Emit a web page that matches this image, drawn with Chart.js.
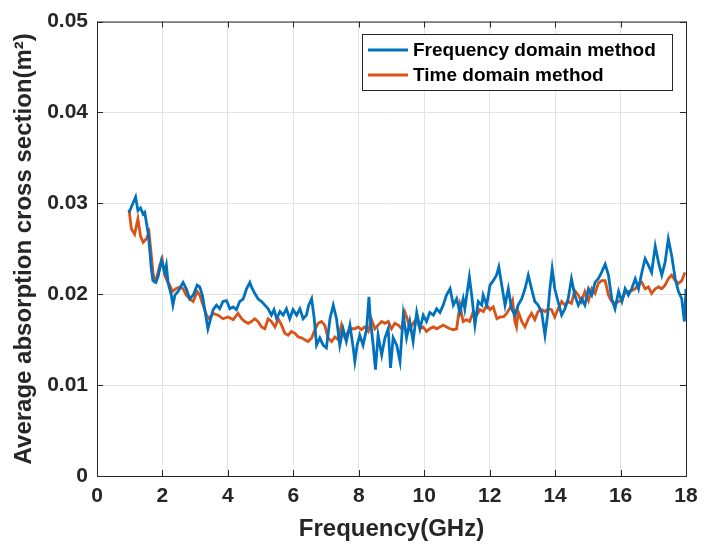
<!DOCTYPE html>
<html>
<head>
<meta charset="utf-8">
<script src="https://cdn.jsdelivr.net/npm/chart.js@4.4.1/dist/chart.umd.min.js"></script>
<style>
  html, body { margin: 0; padding: 0; background: #fff; }
  #wrap { width: 719px; height: 544px; }
</style>
</head>
<body>
<div id="wrap"><canvas id="chart" width="719" height="544"></canvas></div>
<script>
// Data
const freqBlue = [0.98, 1.18, 1.25, 1.33, 1.41, 1.46, 1.51, 1.56, 1.61, 1.66, 1.71, 1.80, 1.87, 1.97, 2.07, 2.12, 2.17, 2.27, 2.32, 2.38, 2.48, 2.63, 2.73, 2.83, 2.94, 3.06, 3.14, 3.22, 3.29, 3.39, 3.45, 3.55, 3.65, 3.75, 3.85, 3.96, 4.06, 4.16, 4.26, 4.36, 4.47, 4.57, 4.67, 4.72, 4.82, 4.92, 5.03, 5.13, 5.23, 5.33, 5.41, 5.49, 5.59, 5.69, 5.79, 5.89, 5.99, 6.10, 6.20, 6.30, 6.40, 6.47, 6.56, 6.64, 6.71, 6.81, 6.91, 7.01, 7.12, 7.22, 7.32, 7.42, 7.52, 7.62, 7.73, 7.83, 7.88, 7.95, 8.03, 8.13, 8.24, 8.31, 8.36, 8.44, 8.51, 8.59, 8.70, 8.80, 8.90, 8.97, 9.05, 9.16, 9.26, 9.36, 9.46, 9.56, 9.66, 9.77, 9.87, 9.97, 10.07, 10.17, 10.28, 10.38, 10.48, 10.58, 10.68, 10.79, 10.89, 10.99, 11.09, 11.19, 11.24, 11.38, 11.45, 11.55, 11.65, 11.76, 11.80, 11.91, 12.01, 12.11, 12.21, 12.28, 12.37, 12.47, 12.57, 12.67, 12.77, 12.87, 12.98, 13.08, 13.18, 13.28, 13.38, 13.48, 13.59, 13.69, 13.77, 13.84, 13.91, 13.99, 14.09, 14.20, 14.30, 14.40, 14.50, 14.60, 14.71, 14.81, 14.91, 15.02, 15.12, 15.22, 15.32, 15.42, 15.53, 15.63, 15.73, 15.83, 15.94, 16.04, 16.14, 16.24, 16.34, 16.45, 16.55, 16.65, 16.75, 16.85, 16.95, 17.06, 17.16, 17.26, 17.36, 17.46, 17.56, 17.67, 17.77, 17.87, 17.95, 18.0];
const freqDomain = [0.0290, 0.0307, 0.0292, 0.0295, 0.0288, 0.0290, 0.0279, 0.0268, 0.0250, 0.0228, 0.0215, 0.0213, 0.0220, 0.0237, 0.0224, 0.0232, 0.0213, 0.0199, 0.0188, 0.0199, 0.0203, 0.0213, 0.0206, 0.0195, 0.0199, 0.0210, 0.0208, 0.0199, 0.0184, 0.0162, 0.0170, 0.0183, 0.0188, 0.0184, 0.0192, 0.0193, 0.0184, 0.0186, 0.0183, 0.0192, 0.0195, 0.0206, 0.0213, 0.0208, 0.0201, 0.0195, 0.0192, 0.0188, 0.0184, 0.0177, 0.0183, 0.0173, 0.0181, 0.0177, 0.0184, 0.0173, 0.0183, 0.0177, 0.0184, 0.0173, 0.0177, 0.0188, 0.0195, 0.0173, 0.0144, 0.0152, 0.0144, 0.0141, 0.0173, 0.0188, 0.0173, 0.0144, 0.0162, 0.0148, 0.0166, 0.0141, 0.0126, 0.0144, 0.0155, 0.0144, 0.0162, 0.0197, 0.0170, 0.0144, 0.0117, 0.0155, 0.0133, 0.0152, 0.0162, 0.0119, 0.0152, 0.0144, 0.0126, 0.0177, 0.0152, 0.0170, 0.0148, 0.0180, 0.0162, 0.0177, 0.0170, 0.0180, 0.0177, 0.0184, 0.0180, 0.0188, 0.0199, 0.0206, 0.0188, 0.0195, 0.0180, 0.0195, 0.0184, 0.0219, 0.0199, 0.0166, 0.0192, 0.0188, 0.0199, 0.0188, 0.0210, 0.0215, 0.0221, 0.0230, 0.0210, 0.0188, 0.0206, 0.0184, 0.0177, 0.0188, 0.0195, 0.0206, 0.0221, 0.0206, 0.0192, 0.0188, 0.0180, 0.0155, 0.0177, 0.0206, 0.0228, 0.0206, 0.0192, 0.0177, 0.0184, 0.0195, 0.0217, 0.0199, 0.0188, 0.0195, 0.0188, 0.0206, 0.0199, 0.0213, 0.0217, 0.0224, 0.0233, 0.0221, 0.0195, 0.0184, 0.0203, 0.0192, 0.0206, 0.0199, 0.0206, 0.0217, 0.0206, 0.0224, 0.0239, 0.0232, 0.0224, 0.0253, 0.0235, 0.0221, 0.0235, 0.0261, 0.0243, 0.0217, 0.0203, 0.0195, 0.0170, 0.0206];

const freqRed = [0.98, 1.05, 1.15, 1.25, 1.33, 1.41, 1.51, 1.59, 1.66, 1.71, 1.76, 1.83, 1.92, 1.99, 2.07, 2.14, 2.22, 2.31, 2.41, 2.53, 2.63, 2.73, 2.83, 2.94, 3.06, 3.14, 3.24, 3.35, 3.43, 3.55, 3.70, 3.85, 4.01, 4.16, 4.31, 4.42, 4.52, 4.62, 4.72, 4.82, 4.92, 5.03, 5.13, 5.23, 5.33, 5.44, 5.54, 5.64, 5.74, 5.84, 5.94, 6.05, 6.15, 6.25, 6.35, 6.45, 6.56, 6.66, 6.76, 6.86, 6.96, 7.06, 7.17, 7.27, 7.37, 7.47, 7.57, 7.68, 7.78, 7.88, 7.98, 8.08, 8.18, 8.29, 8.39, 8.49, 8.59, 8.70, 8.80, 8.90, 9.00, 9.10, 9.21, 9.31, 9.41, 9.48, 9.56, 9.66, 9.77, 9.87, 9.97, 10.07, 10.17, 10.28, 10.38, 10.48, 10.58, 10.68, 10.79, 10.89, 10.99, 11.09, 11.19, 11.29, 11.39, 11.50, 11.60, 11.70, 11.81, 11.91, 12.01, 12.11, 12.22, 12.32, 12.42, 12.52, 12.62, 12.70, 12.77, 12.82, 12.87, 12.98, 13.08, 13.18, 13.28, 13.38, 13.48, 13.59, 13.69, 13.79, 13.89, 13.99, 14.09, 14.20, 14.30, 14.40, 14.50, 14.60, 14.71, 14.81, 14.91, 15.02, 15.12, 15.22, 15.32, 15.42, 15.53, 15.63, 15.73, 15.83, 15.94, 16.04, 16.14, 16.24, 16.34, 16.45, 16.55, 16.65, 16.75, 16.85, 16.95, 17.06, 17.16, 17.26, 17.36, 17.46, 17.56, 17.67, 17.77, 17.87, 17.97];
const timeDomain = [0.0293, 0.0272, 0.0266, 0.0283, 0.0264, 0.0257, 0.0261, 0.0268, 0.0243, 0.0224, 0.0215, 0.0219, 0.0232, 0.0239, 0.0221, 0.0215, 0.0210, 0.0203, 0.0206, 0.0208, 0.0206, 0.0199, 0.0195, 0.0192, 0.0203, 0.0199, 0.0188, 0.0177, 0.0173, 0.0179, 0.0177, 0.0173, 0.0175, 0.0172, 0.0179, 0.0173, 0.0170, 0.0168, 0.0170, 0.0173, 0.0170, 0.0164, 0.0162, 0.0173, 0.0170, 0.0164, 0.0173, 0.0166, 0.0157, 0.0155, 0.0159, 0.0157, 0.0153, 0.0152, 0.0150, 0.0148, 0.0152, 0.0161, 0.0168, 0.0170, 0.0166, 0.0152, 0.0148, 0.0153, 0.0150, 0.0166, 0.0153, 0.0159, 0.0162, 0.0162, 0.0164, 0.0161, 0.0164, 0.0159, 0.0172, 0.0162, 0.0166, 0.0170, 0.0168, 0.0170, 0.0162, 0.0168, 0.0166, 0.0162, 0.0180, 0.0173, 0.0162, 0.0168, 0.0173, 0.0162, 0.0164, 0.0159, 0.0162, 0.0164, 0.0162, 0.0164, 0.0166, 0.0164, 0.0162, 0.0161, 0.0162, 0.0188, 0.0170, 0.0172, 0.0170, 0.0181, 0.0177, 0.0183, 0.0181, 0.0188, 0.0183, 0.0186, 0.0173, 0.0175, 0.0175, 0.0179, 0.0185, 0.0193, 0.0170, 0.0164, 0.0181, 0.0170, 0.0164, 0.0173, 0.0179, 0.0172, 0.0181, 0.0183, 0.0181, 0.0184, 0.0183, 0.0175, 0.0184, 0.0192, 0.0188, 0.0192, 0.0190, 0.0204, 0.0199, 0.0192, 0.0203, 0.0193, 0.0206, 0.0201, 0.0212, 0.0215, 0.0215, 0.0199, 0.0192, 0.0190, 0.0192, 0.0193, 0.0203, 0.0203, 0.0204, 0.0206, 0.0212, 0.0213, 0.0206, 0.0208, 0.0201, 0.0206, 0.0208, 0.0206, 0.0210, 0.0217, 0.0221, 0.0215, 0.0212, 0.0215, 0.0224];

const seriesNames = ["Frequency domain method", "Time domain method"];
const xTicks = [0, 2, 4, 6, 8, 10, 12, 14, 16, 18];
const yTicks = [0, 0.01, 0.02, 0.03, 0.04, 0.05];

const txt = "#262626";
const fontFam = "'Liberation Sans', Arial, sans-serif";

function pairs(xs, ys) {
  return xs.map((x, i) => ({ x: x, y: ys[i] }));
}

// box around plot, inward ticks on all four sides, floating legend
const boxPlugin = {
  id: "box",
  afterDatasetsDraw(chart) {
    const c = chart.ctx;
    const a = chart.chartArea;
    const xs = chart.scales.x, ys = chart.scales.y;
    c.save();
    c.strokeStyle = txt;
    c.lineWidth = 1;
    c.strokeRect(a.left + 0.5, a.top + 0.5, a.right - a.left, a.bottom - a.top);
    c.beginPath();
    xTicks.forEach((t) => {
      const px = Math.round(xs.getPixelForValue(t)) + 0.5;
      c.moveTo(px, a.bottom); c.lineTo(px, a.bottom - 6);
      c.moveTo(px, a.top); c.lineTo(px, a.top + 6);
    });
    yTicks.forEach((t) => {
      const py = Math.round(ys.getPixelForValue(t)) + 0.5;
      c.moveTo(a.left, py); c.lineTo(a.left + 6, py);
      c.moveTo(a.right, py); c.lineTo(a.right - 6, py);
    });
    c.stroke();

    // legend
    const lx = 362, ly = 34, lw = 310, lh = 56;
    c.fillStyle = "#fff";
    c.fillRect(lx, ly, lw, lh);
    c.strokeRect(lx + 0.5, ly + 0.5, lw, lh);
    c.font = "bold 19px " + fontFam;
    c.textBaseline = "middle";
    chart.data.datasets.forEach((ds, i) => {
      const y = ly + 16 + i * 25;
      c.strokeStyle = ds.borderColor;
      c.lineWidth = 2.8;
      c.beginPath();
      c.moveTo(lx + 6, y); c.lineTo(lx + 46, y);
      c.stroke();
      c.fillStyle = "#000";
      c.fillText(ds.label, lx + 51, y + 1);
    });
    c.restore();
  },
};

const ctx = document.getElementById("chart").getContext("2d");
const chart = new Chart(ctx, {
  type: "line",
  data: {
    datasets: [
      {
        label: seriesNames[0],
        data: pairs(freqBlue, freqDomain),
        borderColor: "#0072BD",
        borderWidth: 2.8,
        pointRadius: 0,
        tension: 0,
      },
      {
        label: seriesNames[1],
        data: pairs(freqRed, timeDomain),
        borderColor: "#D95319",
        borderWidth: 2.8,
        pointRadius: 0,
        tension: 0,
      },
    ],
  },
  options: {
    responsive: false,
    animation: false,
    layout: { padding: { top: 17, right: 33, left: 0, bottom: 0 } },
    plugins: {
      legend: { display: false },
      tooltip: { enabled: false },
    },
    scales: {
      x: {
        type: "linear",
        min: 0,
        max: 18,
        afterBuildTicks: (s) => { s.ticks = xTicks.map((v) => ({ value: v })); },
        afterFit: (s) => { s.height = 68; },
        grid: { color: "#e3e3e3", drawTicks: false },
        border: { display: false },
        ticks: {
          color: txt,
          padding: 8,
          font: { family: fontFam, size: 21, weight: "bold" },
        },
        title: {
          display: true,
          text: "Frequency(GHz)",
          color: txt,
          padding: { top: 2, bottom: 0 },
          font: { family: fontFam, size: 24, weight: "bold" },
        },
      },
      y: {
        min: 0,
        max: 0.05,
        afterBuildTicks: (s) => { s.ticks = yTicks.map((v) => ({ value: v })); },
        afterFit: (s) => { s.width = 97; },
        grid: { color: "#e3e3e3", drawTicks: false },
        border: { display: false },
        ticks: {
          color: txt,
          padding: 9,
          font: { family: fontFam, size: 21, weight: "bold" },
          callback: (v) => (v === 0 ? "0" : v.toFixed(2)),
        },
        title: {
          display: true,
          text: "Average absorption cross section(m\u00B2)",
          color: txt,
          padding: { top: 10, bottom: 0 },
          font: { family: fontFam, size: 24, weight: "bold" },
        },
      },
    },
  },
  plugins: [boxPlugin],
});
</script>
</body>
</html>
